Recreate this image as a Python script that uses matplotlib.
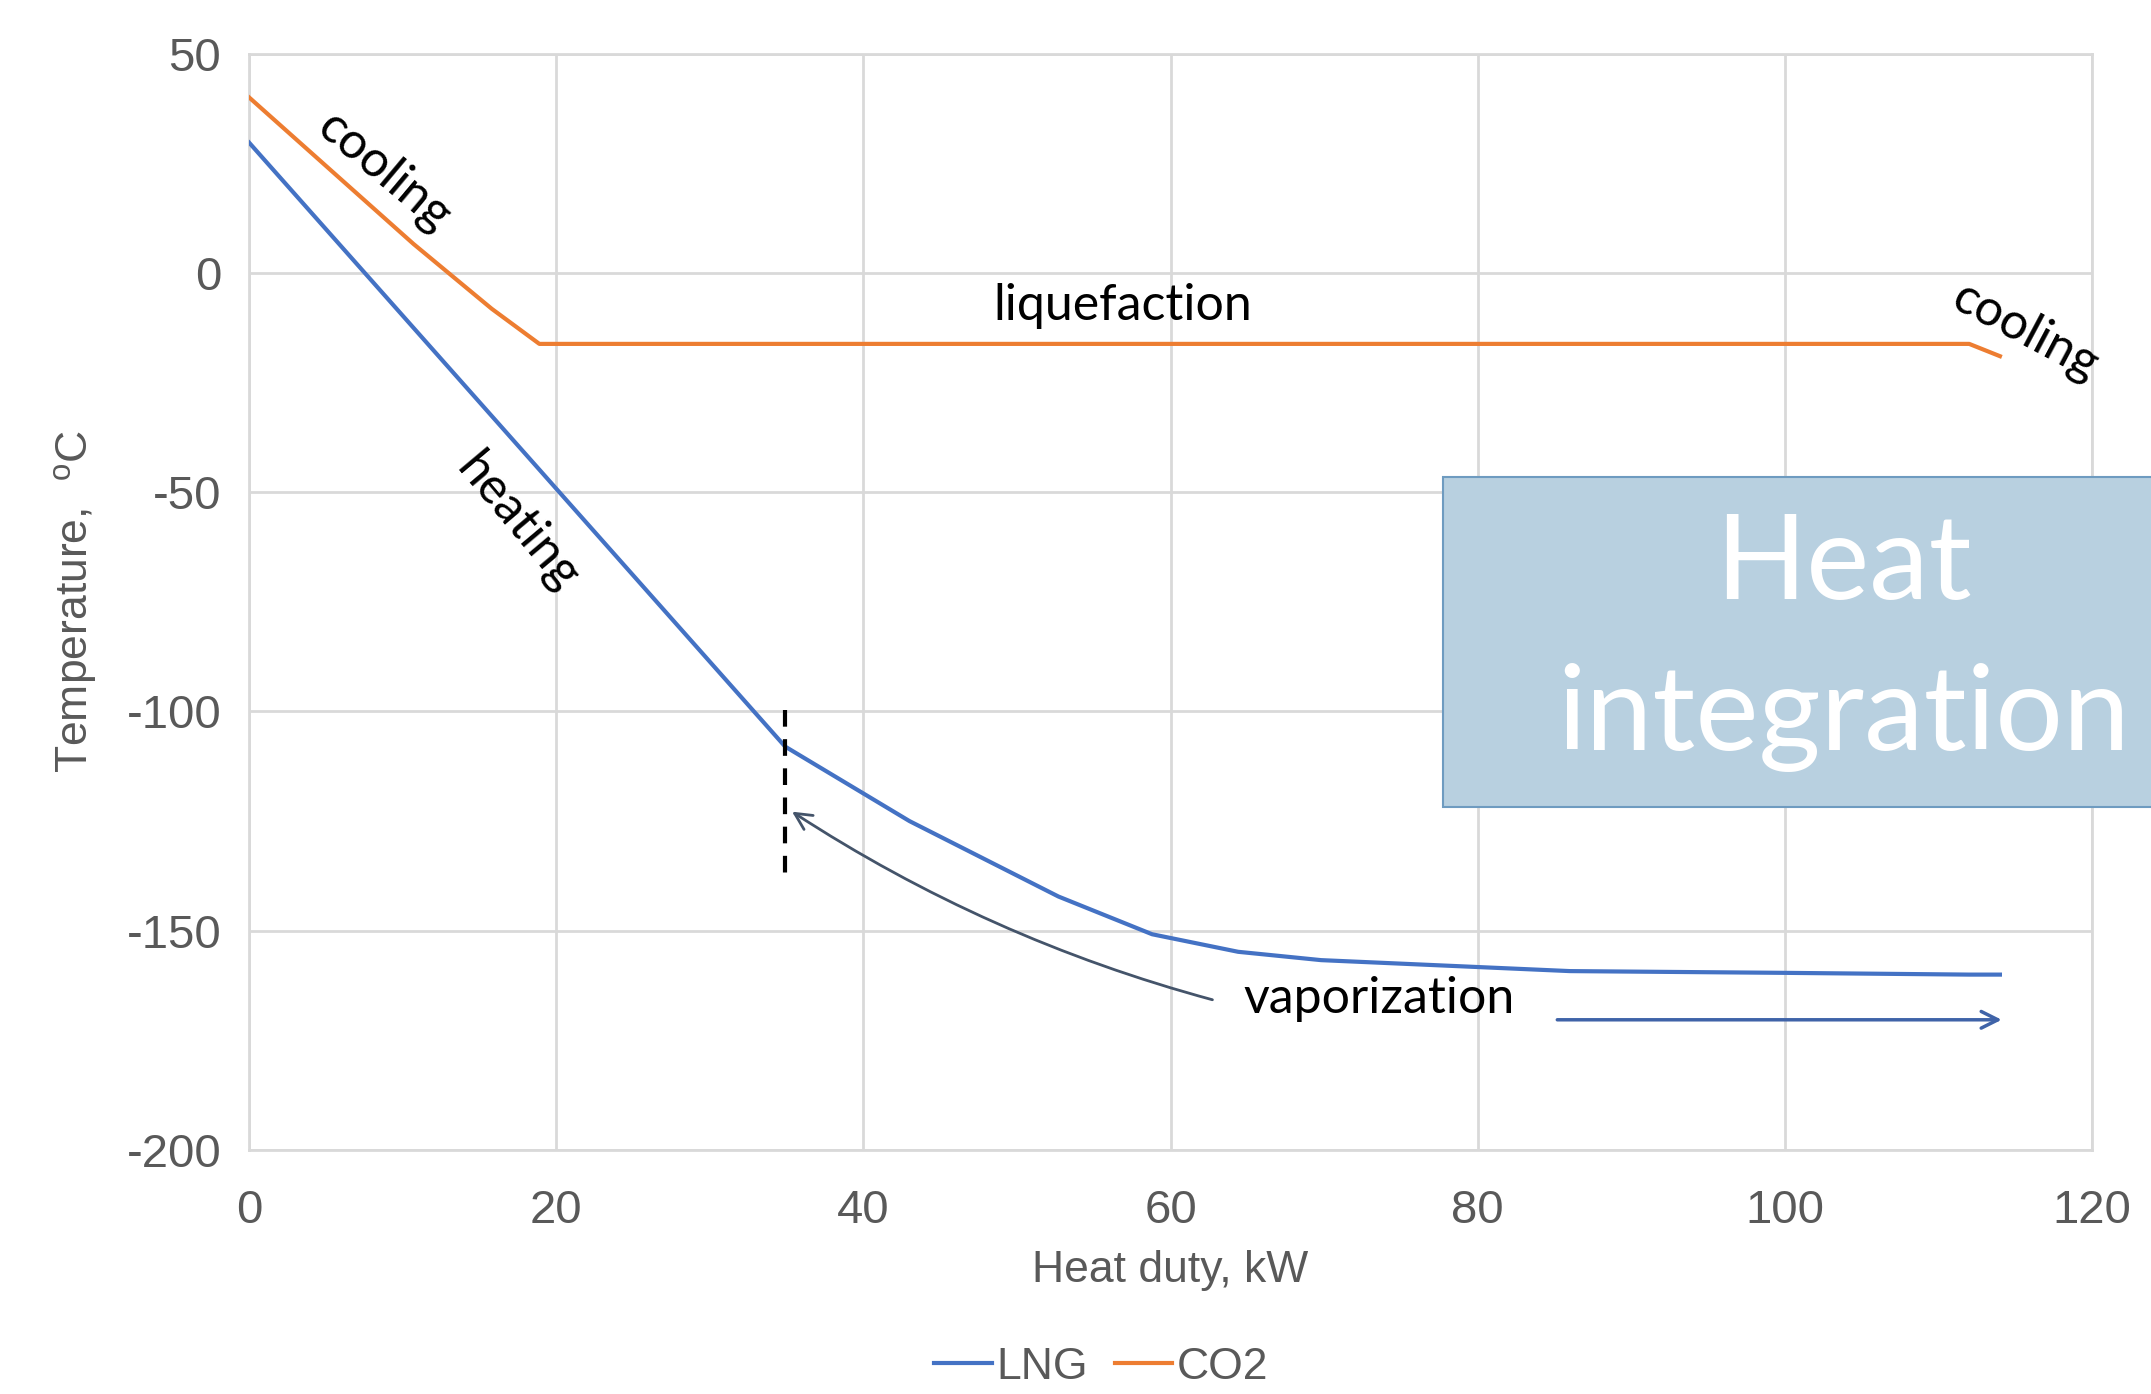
import matplotlib
matplotlib.use("Agg")
import matplotlib.pyplot as plt
from matplotlib.patches import Rectangle, FancyArrowPatch

plt.rcParams["axes.unicode_minus"] = False

# ---- data ----
lng_duty = [0, 34.9, 43.0, 52.7, 58.8, 64.4, 69.8, 86.0, 100.0, 112.0, 114.0]
lng_temp = [29.7, -108.0, -125.0, -142.2, -150.8, -154.8, -156.7, -159.2, -159.6, -160.0, -160.0]
co2_duty = [0, 10.7, 15.8, 18.9, 112.0, 114.0]
co2_temp = [40.0, 6.6, -8.2, -16.2, -16.2, -19.0]
x_ticks = [0, 20, 40, 60, 80, 100, 120]
y_ticks = [50, 0, -50, -100, -150, -200]

BLUE = "#4472C4"
ORANGE = "#ED7D31"
GRID = "#D9D9D9"
TICK = "#595959"
TEXT_FONT = ["Lato", "DejaVu Sans"]
AX_FONT = ["Liberation Sans", "DejaVu Sans"]

fig = plt.figure(figsize=(21.51, 13.94), dpi=100)
ax = fig.add_axes([0.1158, 0.175, 0.8568, 0.7866])

ax.plot(lng_duty, lng_temp, color=BLUE, lw=3, label="LNG", zorder=3)
ax.plot(co2_duty, co2_temp, color=ORANGE, lw=3, label="CO2", zorder=3)

ax.set_xlim(0, 120)
ax.set_ylim(-200, 50)
ax.set_xticks(x_ticks)
ax.set_yticks(y_ticks)
ax.grid(True, color=GRID, lw=2)
ax.set_axisbelow(True)
for s in ax.spines.values():
    s.set_color(GRID)
    s.set_linewidth(2)
ax.tick_params(length=0, labelsize=34, labelcolor=TICK)
ax.tick_params(axis="x", pad=28)
ax.tick_params(axis="y", pad=20)
for lab in ax.get_xticklabels() + ax.get_yticklabels():
    lab.set_family(AX_FONT)

ax.set_xlabel("Heat duty, kW", fontsize=32, color=TICK, family=AX_FONT, labelpad=12)
ax.set_ylabel(r"Temperature,  $^\mathregular{o}$C", fontsize=32, color=TICK,
              family=AX_FONT, labelpad=20)

# dashed marker at end of heating
ax.plot([34.9, 34.9], [-99.7, -137.3], color="black", lw=3, ls=(0, (4, 3)), zorder=4)

# annotations
ax.text(8.8, 23, "cooling", rotation=-40, fontsize=36, family=TEXT_FONT,
        ha="center", va="center", rotation_mode="anchor")
ax.text(17.5, -57, "heating", rotation=-50, fontsize=36, family=TEXT_FONT,
        ha="center", va="center", rotation_mode="anchor")
ax.text(56.9, -7.6, "liquefaction", fontsize=36, family=TEXT_FONT,
        ha="center", va="center")
ax.text(115.7, -13.5, "cooling", rotation=-28, fontsize=36, family=TEXT_FONT,
        ha="center", va="center", rotation_mode="anchor", clip_on=False)
ax.text(73.6, -165.5, "vaporization", fontsize=36, family=TEXT_FONT,
        ha="center", va="center")

arr1 = FancyArrowPatch((62.9, -165.9), (35.2, -122.5), arrowstyle="->,head_length=12,head_width=6",
                       connectionstyle="arc3,rad=-0.08", color="#44546A", lw=2, zorder=4)
ax.add_patch(arr1)
arr2 = FancyArrowPatch((85.0, -170.3), (114.3, -170.3), arrowstyle="->,head_length=12,head_width=6",
                       color="#3F63A8", lw=2.5, zorder=4)
ax.add_patch(arr2)

leg = fig.legend(loc="center", bbox_to_anchor=(0.512, 0.019), ncol=2, frameon=False,
                 handlelength=1.3, handletextpad=0.1, columnspacing=0.6,
                 prop={"family": AX_FONT, "size": 32})
for t in leg.get_texts():
    t.set_color(TICK)

# overlay box
box = Rectangle((0.671, 0.421), 0.35, 0.237, transform=fig.transFigure,
                facecolor="#B8D0E0", edgecolor="#6E9BC0", lw=1.5, zorder=10)
fig.patches.append(box)
fig.text(0.857, 0.594, "Heat", fontsize=86, color="white", family=TEXT_FONT,
         ha="center", va="center", zorder=11)
fig.text(0.857, 0.485, "integration", fontsize=86, color="white", family=TEXT_FONT,
         ha="center", va="center", zorder=11)

fig.savefig("out.png", dpi=100)
